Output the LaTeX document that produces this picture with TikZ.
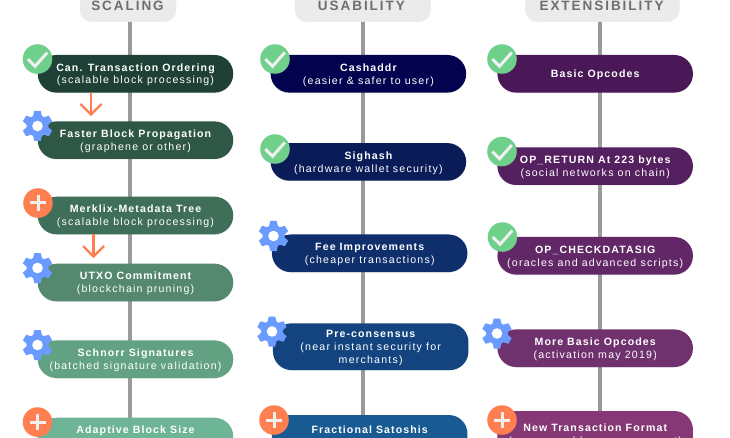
\documentclass[tikz,border=0pt]{standalone}
\usepackage{fontspec}
\setmainfont{Liberation Sans}
\newfontfamily\ttlfont[LetterSpace=10.3,BoldFont={Liberation Sans Bold}]{Liberation Sans}
\newfontfamily\sbtfont[LetterSpace=11.5]{Liberation Sans}
\newfontfamily\hdrfont[LetterSpace=14.5]{Liberation Sans Bold}
\usetikzlibrary{shadows}
\definecolor{railc}{HTML}{9A9A9A}
\definecolor{headc}{HTML}{EBEBEB}
\definecolor{headt}{HTML}{6E6E6E}
\definecolor{okc}{HTML}{6FD08C}
\definecolor{gearc}{HTML}{6B9BFF}
\definecolor{plusc}{HTML}{FF7F50}
\definecolor{symc}{HTML}{F0F0F0}
\tikzset{
  rail/.style={draw=railc,line width=4.4pt},
  headbox/.style={fill=headc,draw=black!8,line width=.4pt,rounded corners=12pt,minimum height=32pt,inner sep=0pt,
    font=\fontsize{13.5}{13.5}\hdrfont,text=headt},
  pill/.style={rounded corners=18.7pt,minimum width=195.5pt,minimum height=37.6pt,inner sep=0pt,text=white,align=center,
    font=\fontsize{10.6}{12.9}\sbtfont,drop shadow={opacity=.12,shadow xshift=0pt,shadow yshift=-.8pt}},
  badge/.style={circle,minimum size=29.5pt,inner sep=0pt,drop shadow={opacity=.15,shadow xshift=0pt,shadow yshift=-.8pt}},
  arrowc/.style={draw=plusc,line width=2.3pt},
  sym/.style={draw=symc,line width=3pt},
}
\newcommand{\ttl}[1]{{\rule{0pt}{9.7pt}\ttlfont\bfseries #1}}
\newcommand{\hdr}[2]{\raisebox{-1pt}{\hspace*{#1}#2}}
% \pil[height]{name}{centre x}{centre y}{colour}{text}
\newcommand{\pil}[6][37.6pt]{\definecolor{pc#2}{HTML}{#5}\node[pill,minimum height=#1,fill=pc#2] (#2) at (#3pt,-#4pt) {#6};}
\newcommand{\okb}[3]{\node[badge,fill=okc] (#1) at (#2pt,-#3pt) {};
  \begin{scope}[shift={(#1.center)}]\draw[sym] (-9.7pt,0pt) -- (-2.5pt,-7.3pt) -- (9.8pt,6.5pt);\end{scope}}
\newcommand{\plb}[3]{\node[badge,fill=plusc] (#1) at (#2pt,-#3pt) {};
  \begin{scope}[shift={(#1.center)}]\draw[sym] (-8pt,0pt) -- (8pt,0pt) (0pt,-8pt) -- (0pt,8pt);\end{scope}}
\newcommand{\geb}[3]{\node[minimum size=22pt,inner sep=0pt,circle,fill=gearc] (#1) at (#2pt,-#3pt) {};
  \begin{scope}[shift={(#1.center)}]
  \foreach \a in {0,60,...,300}{\fill[gearc,rotate=\a] (-4.6pt,9pt) -- (-3.2pt,15pt) -- (3.2pt,15pt) -- (4.6pt,9pt) -- cycle;}
  \fill[white] (0pt,0pt) circle (5.3pt);
  \end{scope}}
\begin{document}
\begin{tikzpicture}
\useasboundingbox (0pt,0pt) rectangle (730pt,-438pt);
\clip (0pt,0pt) rectangle (730pt,-438pt);
\fill[white] (0pt,0pt) rectangle (730pt,-438pt);
% rails
\coordinate (r1t) at (130pt,-20pt); \coordinate (r1b) at (130pt,-438pt);
\coordinate (r2t) at (363pt,-20pt); \coordinate (r2b) at (363pt,-438pt);
\coordinate (r3t) at (600pt,-20pt); \coordinate (r3b) at (600pt,-438pt);
\draw[rail] (r1t) -- (r1b);
\draw[rail] (r2t) -- (r2b);
\draw[rail] (r3t) -- (r3b);
% headers
\node[headbox,minimum width=96pt] (h1) at (128pt,-5.7pt) {\hdr{-1pt}{SCALING}};
\node[headbox,minimum width=135.7pt] (h2) at (362.9pt,-5.7pt) {\hdr{-3pt}{USABILITY}};
\node[headbox,minimum width=154pt] (h3) at (602.3pt,-5.7pt) {\hdr{-1.5pt}{EXTENSIBILITY}};
% scaling
\pil{a1}{135.5}{73.8}{1F4037}{\ttl{Can. Transaction Ordering}\\(scalable block processing)}
\pil{a2}{135.5}{140.2}{2F5746}{\ttl{Faster Block Propagation}\\(graphene or other)}
\pil{a3}{135.5}{215.5}{3F6E59}{\ttl{Merklix-Metadata Tree}\\(scalable block processing)}
\pil{a4}{135.5}{282.5}{55896F}{\ttl{UTXO Commitment}\\(blockchain pruning)}
\pil{a5}{135.5}{359.2}{62A182}{\ttl{Schnorr Signatures}\\(batched signature validation)}
\pil{a6}{135.5}{436.5}{6DB596}{\ttl{Adaptive Block Size}\\(market-driven growth)}
% usability
\pil{b1}{368.4}{73.8}{03024F}{\ttl{Cashaddr}\\(easier \& safer to user)}
\pil{b2}{368.4}{161.9}{0A1C58}{\ttl{Sighash}\\(hardware wallet security)}
\pil{b3}{369.7}{253.3}{0E2F6C}{\ttl{Fee Improvements}\\(cheaper transactions)}
\pil[46.8pt]{b4}{370.7}{346.7}{134480}{\ttl{Pre-consensus}\\(near instant security for\\merchants)}
\pil[43pt]{b5}{369.7}{436.5}{175B92}{\ttl{Fractional Satoshis}\\(lower fee rates)}
% extensibility
\pil{c1}{595.2}{73.8}{4A1857}{\ttl{Basic Opcodes}}
\pil{c2}{595.2}{166.2}{55205F}{\ttl{OP\_RETURN At 223 bytes}\\(social networks on chain)}
\pil{c3}{595.2}{255.8}{612766}{\ttl{OP\_CHECKDATASIG}\\(oracles and advanced scripts)}
\pil{c4}{595.2}{348.2}{70316F}{\ttl{More Basic Opcodes}\\(activation may 2019)}
\pil[46.8pt]{c5}{595.2}{434.4}{853875}{\ttl{New Transaction Format}\\(more capable, more compact)}
% orange arrows
\coordinate (u1) at (91pt,-114.5pt);
\coordinate (u2) at (93.5pt,-256.5pt);
\draw[arrowc] (a1.south -| u1) -- (u1);
\draw[arrowc,line join=miter] ([shift={(-10.5pt,10.5pt)}]u1) -- (u1) -- ([shift={(10.5pt,10.5pt)}]u1);
\draw[arrowc] (a3.south -| u2) -- (u2);
\draw[arrowc,line join=miter] ([shift={(-10.5pt,10.5pt)}]u2) -- (u2) -- ([shift={(10.5pt,10.5pt)}]u2);
% badges
\okb{k1}{37.5}{59}
\geb{g1}{37.5}{126}
\plb{p1}{38}{203}
\geb{g2}{37.5}{268}
\geb{g3}{37.5}{345}
\plb{p2}{37.5}{422}
\okb{k2}{275}{59}
\okb{k3}{275}{149}
\geb{g4}{273.5}{236}
\geb{g5}{272}{331.5}
\plb{p3}{274}{420}
\okb{k4}{502}{59}
\okb{k5}{502}{151.5}
\okb{k6}{502.5}{237}
\geb{g6}{497}{333.5}
\plb{p4}{502}{420}
\end{tikzpicture}
\end{document}
